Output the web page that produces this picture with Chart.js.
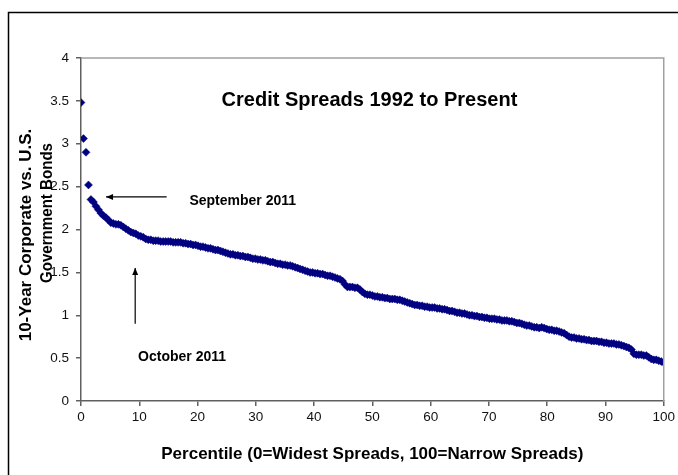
<!DOCTYPE html>
<html>
<head>
<meta charset="utf-8">
<script src="https://cdn.jsdelivr.net/npm/chart.js@4.4.0/dist/chart.umd.min.js"></script>
<style>
  html, body { margin: 0; padding: 0; background: #fff; }
  #wrap { position: relative; width: 678px; height: 475px; }
</style>
</head>
<body>
<div id="wrap"><canvas id="spreadChart"></canvas></div>
<script>
// Credit spreads, sorted widest -> narrowest
const spreads = [
  3.48, 3.06, 2.90, 2.52, 2.35, 2.32, 2.27, 2.23, 2.19, 2.16,
  2.14, 2.11, 2.08, 2.07, 2.06, 2.06, 2.05, 2.03, 2.01, 1.99,
  1.97, 1.96, 1.95, 1.93, 1.92, 1.91, 1.89, 1.88, 1.88, 1.87,
  1.87, 1.87, 1.86, 1.86, 1.86, 1.86, 1.86, 1.85, 1.85, 1.85,
  1.85, 1.84, 1.84, 1.83, 1.83, 1.82, 1.82, 1.81, 1.80, 1.80,
  1.79, 1.78, 1.78, 1.77, 1.76, 1.76, 1.75, 1.74, 1.73, 1.72,
  1.71, 1.71, 1.70, 1.70, 1.69, 1.69, 1.68, 1.68, 1.67, 1.66,
  1.66, 1.65, 1.65, 1.64, 1.64, 1.63, 1.62, 1.62, 1.61, 1.60,
  1.60, 1.59, 1.59, 1.58, 1.58, 1.57, 1.56, 1.55, 1.54, 1.53,
  1.52, 1.51, 1.50, 1.50, 1.49, 1.49, 1.48, 1.48, 1.47, 1.46,
  1.46, 1.45, 1.44, 1.43, 1.42, 1.40, 1.36, 1.33, 1.33, 1.33,
  1.32, 1.32, 1.30, 1.27, 1.25, 1.24, 1.24, 1.23, 1.22, 1.22,
  1.21, 1.21, 1.20, 1.20, 1.19, 1.19, 1.19, 1.18, 1.18, 1.17,
  1.16, 1.15, 1.14, 1.13, 1.12, 1.12, 1.11, 1.11, 1.10, 1.10,
  1.09, 1.09, 1.09, 1.08, 1.08, 1.07, 1.07, 1.06, 1.05, 1.05,
  1.04, 1.03, 1.03, 1.02, 1.02, 1.01, 1.00, 1.00, 0.99, 0.99,
  0.98, 0.98, 0.97, 0.97, 0.96, 0.96, 0.96, 0.95, 0.95, 0.94,
  0.94, 0.94, 0.93, 0.93, 0.92, 0.91, 0.91, 0.90, 0.89, 0.88,
  0.88, 0.87, 0.86, 0.86, 0.85, 0.86, 0.85, 0.84, 0.83, 0.83,
  0.82, 0.82, 0.81, 0.80, 0.79, 0.77, 0.75, 0.74, 0.74, 0.73,
  0.73, 0.72, 0.72, 0.71, 0.71, 0.70, 0.70, 0.70, 0.69, 0.69,
  0.68, 0.68, 0.67, 0.67, 0.67, 0.66, 0.66, 0.65, 0.64, 0.63,
  0.62, 0.60, 0.55, 0.54, 0.54, 0.54, 0.53, 0.53, 0.51, 0.49,
  0.48, 0.48, 0.47, 0.46, 0.45
];
// percentile rank of each observation
const percentiles = spreads.map((v, i) => i * 100 / (spreads.length - 1));

const chartTitle = 'Credit Spreads 1992 to Present';
const xTitle = 'Percentile (0=Widest Spreads, 100=Narrow Spreads)';
const yTitleLines = ['10-Year Corporate vs. U.S.', 'Government Bonds'];
const septLabel = 'September 2011';
const octLabel = 'October 2011';

const FONT = "'Liberation Sans', Arial, sans-serif";
const NAVY = '#000080';

function arrow(ctx, x1, y1, x2, y2) {
  const ang = Math.atan2(y2 - y1, x2 - x1);
  ctx.beginPath();
  ctx.moveTo(x1, y1);
  ctx.lineTo(x2, y2);
  ctx.stroke();
  ctx.beginPath();
  ctx.moveTo(x2, y2);
  ctx.lineTo(x2 - 7 * Math.cos(ang) + 3 * Math.sin(ang), y2 - 7 * Math.sin(ang) - 3 * Math.cos(ang));
  ctx.lineTo(x2 - 7 * Math.cos(ang) - 3 * Math.sin(ang), y2 - 7 * Math.sin(ang) + 3 * Math.cos(ang));
  ctx.closePath();
  ctx.fill();
}

const decor = {
  id: 'decor',
  afterDraw(chart) {
    const { ctx, chartArea: a, scales: { x, y } } = chart;
    ctx.save();

    // outer frame (runs off the right and bottom edges)
    ctx.strokeStyle = '#000';
    ctx.lineWidth = 1.5;
    ctx.beginPath();
    ctx.moveTo(8.5, 480);
    ctx.lineTo(8.5, 12.5);
    ctx.lineTo(700, 12.5);
    ctx.stroke();

    // plot area top / right border
    ctx.strokeStyle = '#a0a0a0';
    ctx.lineWidth = 1.5;
    ctx.beginPath();
    ctx.moveTo(a.left, a.top);
    ctx.lineTo(a.right, a.top);
    ctx.lineTo(a.right, a.bottom);
    ctx.stroke();

    // title inside the plot
    ctx.fillStyle = '#000';
    ctx.font = 'bold 20px ' + FONT;
    ctx.textAlign = 'center';
    ctx.textBaseline = 'middle';
    ctx.fillText(chartTitle, x.getPixelForValue(49.5), y.getPixelForValue(3.5));

    // annotations
    ctx.font = 'bold 14px ' + FONT;
    ctx.textAlign = 'left';
    ctx.fillText(septLabel, x.getPixelForValue(18.6), y.getPixelForValue(2.33));
    ctx.fillText(octLabel, x.getPixelForValue(9.8), y.getPixelForValue(0.51));
    ctx.strokeStyle = '#000';
    ctx.lineWidth = 1.2;
    arrow(ctx, x.getPixelForValue(14.7), y.getPixelForValue(2.38),
               x.getPixelForValue(4.3), y.getPixelForValue(2.38));
    arrow(ctx, x.getPixelForValue(9.3), y.getPixelForValue(0.90),
               x.getPixelForValue(9.3), y.getPixelForValue(1.55));

    // y axis title, two lines, overlapping the tick labels like the original
    ctx.font = 'bold 17px ' + FONT;
    ctx.textAlign = 'center';
    ctx.rotate(-Math.PI / 2);
    ctx.fillText(yTitleLines[0], -235, 26);
    ctx.fillText(yTitleLines[1], -213, 47, 140);
    ctx.restore();
  }
};

new Chart(document.getElementById('spreadChart'), {
  type: 'scatter',
  data: {
    datasets: [{
      label: 'Spread',
      data: percentiles.map((p, i) => ({ x: p, y: spreads[i] })),
      pointStyle: 'rectRot',
      pointRadius: 4,
      pointBackgroundColor: NAVY,
      pointBorderColor: NAVY,
      pointBorderWidth: 0.5
    }]
  },
  options: {
    responsive: true,
    maintainAspectRatio: false,
    animation: false,
    devicePixelRatio: 1,
    layout: { padding: { left: 0, right: 13, top: 58, bottom: 0 } },
    plugins: {
      legend: { display: false },
      tooltip: { enabled: false }
    },
    scales: {
      x: {
        type: 'linear',
        min: 0,
        max: 100,
        afterFit: s => { s.height = 74; },
        border: { display: true, color: '#606060', width: 1.5 },
        grid: { drawOnChartArea: false, drawTicks: true, tickLength: 5, color: '#606060', lineWidth: 1.5 },
        ticks: { stepSize: 10, color: '#111', padding: 3, font: { family: FONT, size: 13.5 }, maxRotation: 0 },
        title: {
          display: true,
          text: xTitle,
          color: '#000',
          font: { family: FONT, size: 17, weight: 'bold' },
          padding: { top: 4, bottom: 10 }
        }
      },
      y: {
        min: 0,
        max: 4,
        afterFit: s => { s.width = 81; },
        border: { display: true, color: '#606060', width: 1.5 },
        grid: { drawOnChartArea: false, drawTicks: true, tickLength: 5, color: '#606060', lineWidth: 1.5 },
        ticks: {
          stepSize: 0.5,
          color: '#111',
          padding: 7,
          font: { family: FONT, size: 13.5 },
          callback: v => String(Number(v))
        }
      }
    }
  },
  plugins: [decor]
});
</script>
</body>
</html>
